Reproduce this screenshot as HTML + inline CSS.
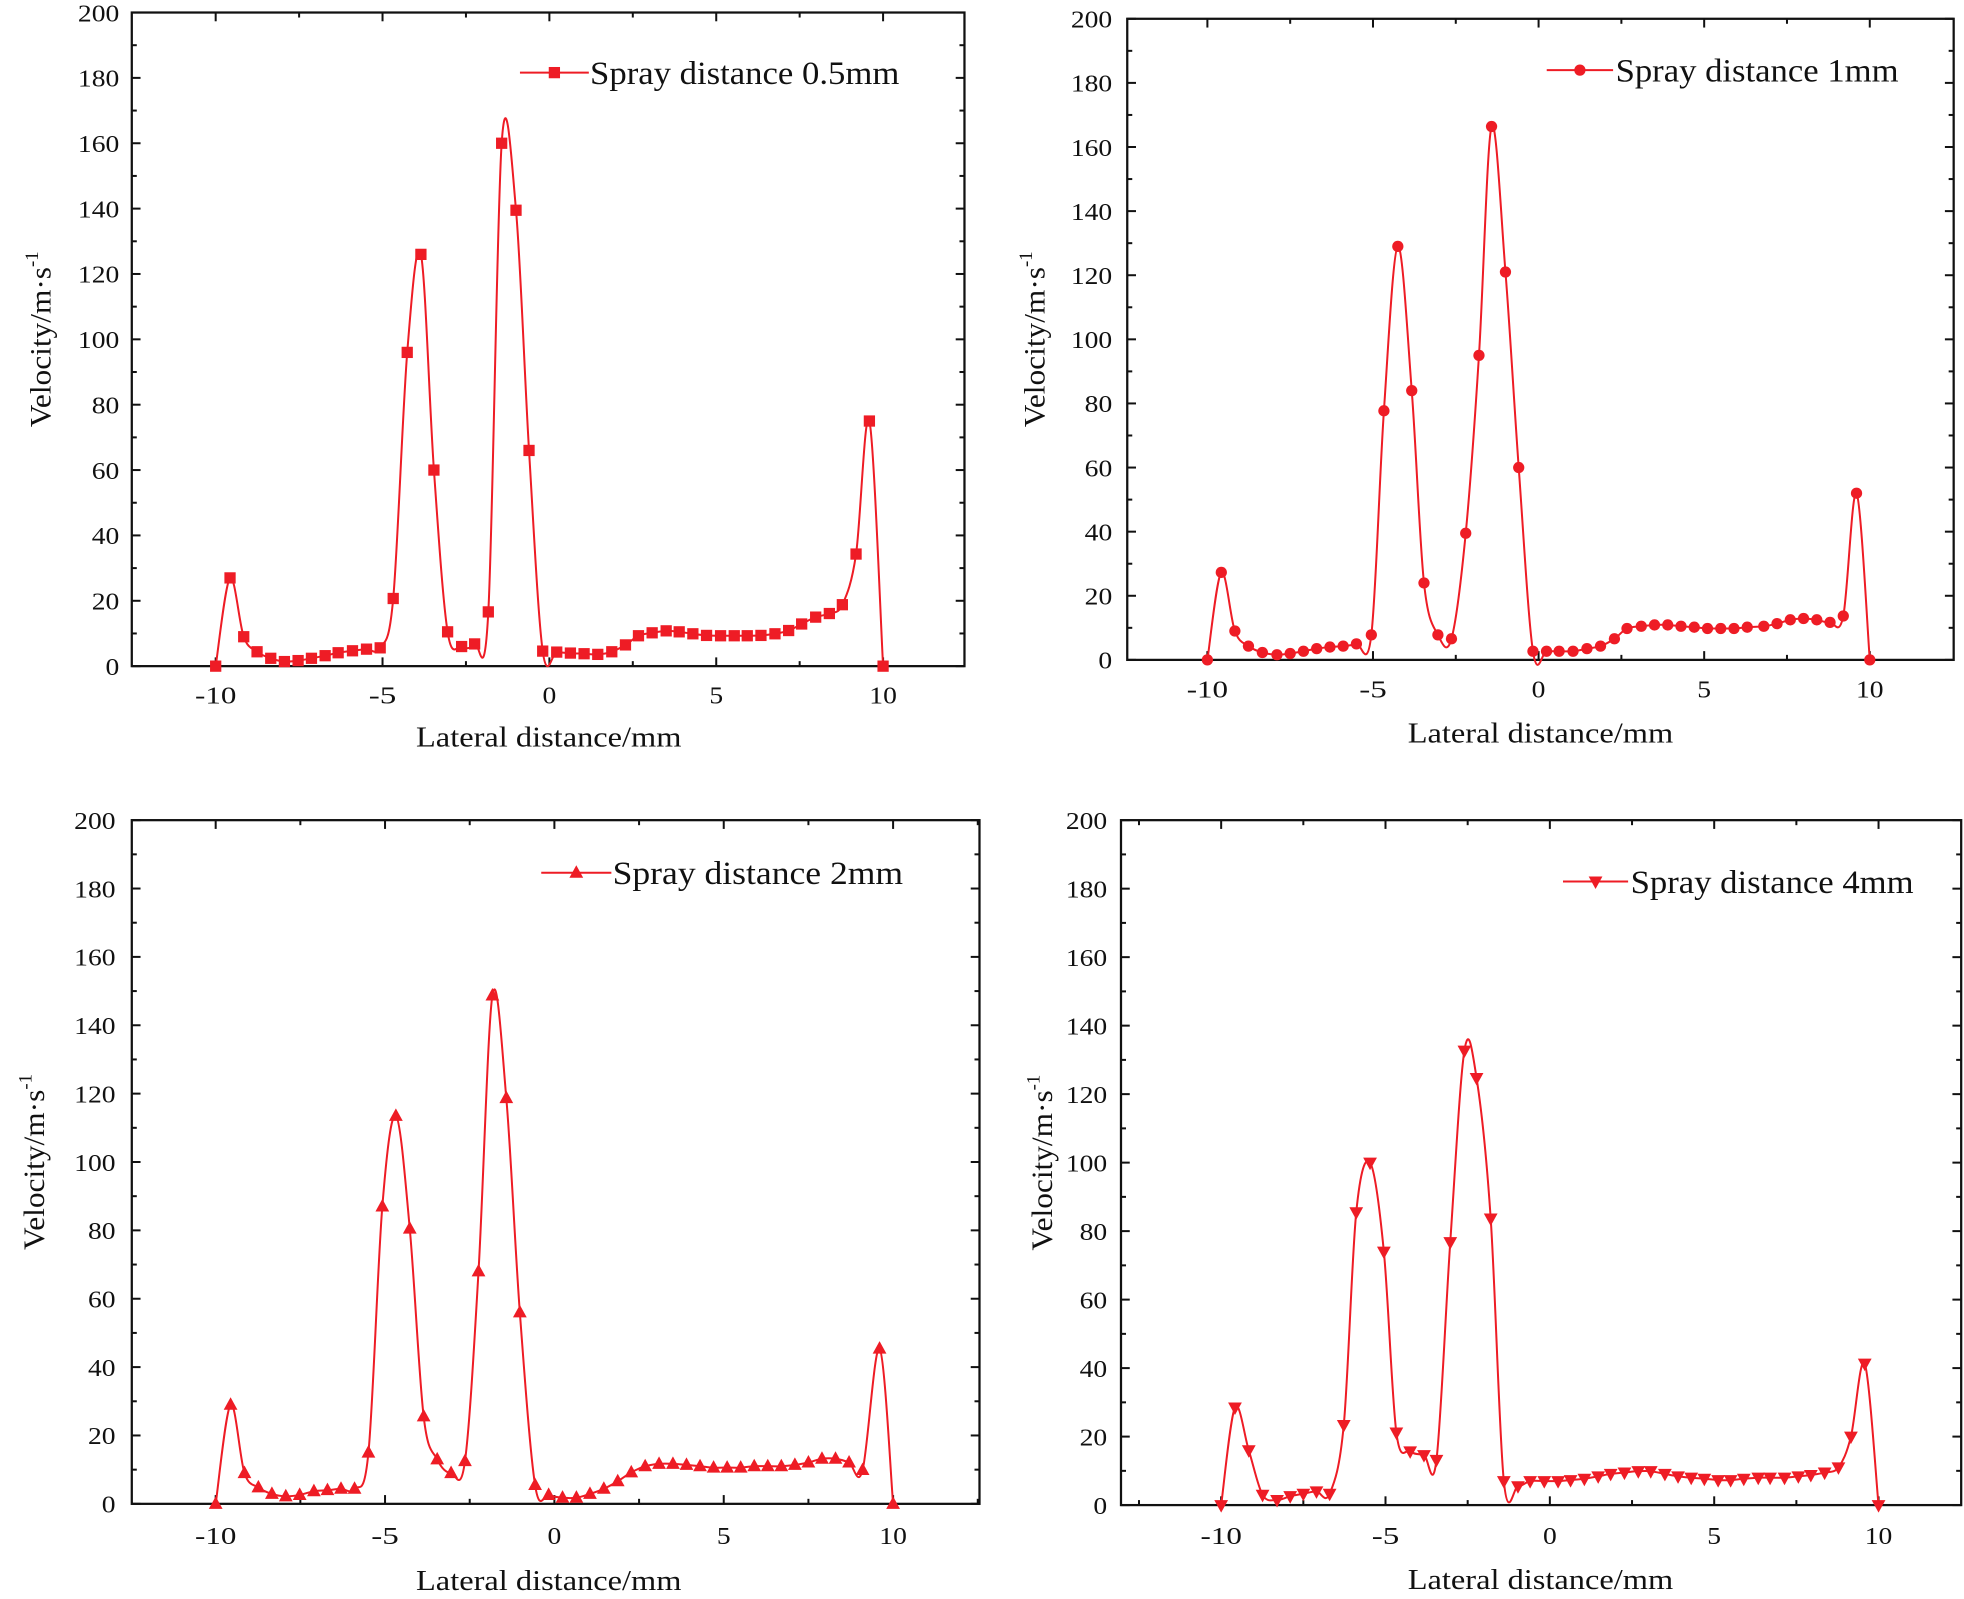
<!DOCTYPE html>
<html><head><meta charset="utf-8">
<style>
html,body{margin:0;padding:0;background:#fff;}
svg{display:block;}
text{font-family:"Liberation Serif",serif;fill:#111;}
</style></head>
<body>
<svg id="chart" width="1964" height="1599" viewBox="0 0 1568 1277" xmlns="http://www.w3.org/2000/svg">
</svg>
<script>
// ---- Data ----
const xTickLabels = ["-10","-5","0","5","10"];
const yTickLabels = ["0","20","40","60","80","100","120","140","160","180","200"];
const seriesNames = ["Spray distance 0.5mm","Spray distance 1mm","Spray distance 2mm","Spray distance 4mm"];

const xs1 = [-10,-9.57,-9.16,-8.76,-8.35,-7.94,-7.53,-7.13,-6.72,-6.33,-5.9,-5.48,-5.07,-4.68,-4.26,-3.85,-3.46,-3.05,-2.63,-2.24,-1.83,-1.43,-1.0,-0.61,-0.2,0.22,0.63,1.04,1.45,1.87,2.28,2.67,3.08,3.5,3.89,4.3,4.71,5.13,5.54,5.93,6.34,6.76,7.17,7.56,7.98,8.39,8.78,9.19,9.59,10];
const ys1 = [0,27,9,4.4,2.4,1.4,1.7,2.4,3.2,4.1,4.7,5.2,5.6,20.7,96,126,60,10.5,6,6.8,16.6,160,139.5,66,4.6,4.3,4,3.8,3.6,4.4,6.5,9.3,10.2,10.8,10.5,9.9,9.4,9.3,9.3,9.3,9.4,9.9,10.9,12.9,15,16.1,18.8,34.3,75,0];

const xs2 = [-10,-9.58,-9.17,-8.76,-8.34,-7.9,-7.5,-7.1,-6.7,-6.3,-5.9,-5.5,-5.05,-4.67,-4.25,-3.83,-3.46,-3.04,-2.63,-2.2,-1.8,-1.42,-1.0,-0.6,-0.17,0.24,0.62,1.04,1.46,1.87,2.29,2.67,3.1,3.5,3.9,4.3,4.7,5.1,5.5,5.9,6.3,6.8,7.2,7.6,8.0,8.4,8.8,9.2,9.6,10];
const ys2 = [0,27.3,9,4.3,2.3,1.6,2,2.7,3.5,4,4.3,5,7.8,77.7,129,84,24,7.8,6.6,39.5,95,166.4,121,60,2.7,2.7,2.7,2.7,3.5,4.3,6.6,9.8,10.5,10.9,10.9,10.5,10.2,9.8,9.8,9.8,10.2,10.5,11.3,12.5,12.9,12.5,11.7,13.7,52,0];

const xs3 = [-10,-9.56,-9.15,-8.74,-8.34,-7.93,-7.52,-7.1,-6.7,-6.3,-5.9,-5.49,-5.08,-4.68,-4.27,-3.86,-3.46,-3.05,-2.64,-2.24,-1.83,-1.42,-1.02,-0.57,-0.17,0.24,0.65,1.05,1.46,1.87,2.27,2.68,3.09,3.5,3.9,4.3,4.7,5.1,5.5,5.9,6.3,6.7,7.1,7.5,7.9,8.3,8.7,9.1,9.6,10];
const ys3 = [0,29,9,4.8,2.9,2.2,2.6,3.7,4,4.4,4.4,15,87,113.5,80.5,25.6,13,9,12.5,68,148.7,118.7,56,5.5,2.6,1.8,1.8,2.9,4.4,6.6,9.2,11,11.7,11.7,11.4,11,10.6,10.6,10.6,11,11,11,11.4,12.1,13.2,13.2,12.1,9.9,45.4,0];

const xs4 = [-10,-9.58,-9.16,-8.74,-8.3,-7.9,-7.5,-7.1,-6.7,-6.27,-5.89,-5.47,-5.05,-4.67,-4.25,-3.83,-3.45,-3.03,-2.6,-2.23,-1.8,-1.4,-0.97,-0.6,-0.17,0.25,0.63,1.05,1.47,1.85,2.27,2.69,3.07,3.5,3.9,4.3,4.7,5.12,5.5,5.9,6.34,6.7,7.14,7.56,7.94,8.36,8.78,9.16,9.58,10];
const ys4 = [0,28.5,16,3,1.5,2.6,3.3,4,3.3,23.4,85.5,100,74,21.2,15.7,14.6,13.2,76.8,132.7,124.7,83.7,7,5.5,7,7,7,7.3,7.7,8.4,9.1,9.5,9.9,9.9,9.1,8.4,8,7.7,7.3,7.3,7.7,8,8,8,8.4,8.8,9.5,11,20,41.3,0];

const seriesX = [xs1,xs2,xs3,xs4];
const seriesY = [ys1,ys2,ys3,ys4];

// ---- Layout (pixel geometry, not data) ----
const panels = [
 {L:105,R:770,T:10,B:532,x0:172,x1:705,ylx:95,xly:562,xtx:438,xty:596,ytx:32,leg:[415,470,58,471,67,247],mk:"square"},
 {L:900,R:1560,T:15,B:527,x0:964,x1:1493,ylx:888,xly:557,xtx:1230,xty:593,ytx:826,leg:[1235,1288,56,1290,65,226],mk:"circle"},
 {L:105,R:782,T:655,B:1201,x0:172,x1:713,ylx:92,xly:1233,xtx:438,xty:1270,ytx:27,leg:[432,488,697,489,706,232],mk:"up"},
 {L:895,R:1566,T:655,B:1202,x0:975,x1:1500,ylx:884,xly:1233,xtx:1230,xty:1269,ytx:832,leg:[1248,1300,704,1302,713,226],mk:"down"}
];
const RED="#ee1c25";
const NS="http://www.w3.org/2000/svg";
const svg=document.getElementById('chart');
function mk(tag,attrs,parent){const e=document.createElementNS(NS,tag);for(const k in attrs)e.setAttribute(k,attrs[k]);(parent||svg).appendChild(e);return e;}

function marker(g,type,cx,cy){
  let e;
  if(type==="square") e=mk('rect',{x:cx-4.5,y:cy-4.5,width:9,height:9,fill:RED},g);
  else if(type==="circle") e=mk('circle',{cx:cx,cy:cy,r:4.5,fill:RED},g);
  else if(type==="up") e=mk('polygon',{points:`${cx},${cy-6} ${cx-5.5},${cy+4} ${cx+5.5},${cy+4}`,fill:RED},g);
  else e=mk('polygon',{points:`${cx},${cy+6} ${cx-5.5},${cy-4} ${cx+5.5},${cy-4}`,fill:RED},g);
  return e;
}
function spline(pts){
  let d=`M${pts[0][0]},${pts[0][1]}`;
  for(let i=0;i<pts.length-1;i++){
    const p0=pts[Math.max(0,i-1)],p1=pts[i],p2=pts[i+1],p3=pts[Math.min(pts.length-1,i+2)];
    const c1x=p1[0]+(p2[0]-p0[0])/6,c1y=p1[1]+(p2[1]-p0[1])/6;
    const c2x=p2[0]-(p3[0]-p1[0])/6,c2y=p2[1]-(p3[1]-p1[1])/6;
    d+=` C${c1x},${c1y} ${c2x},${c2y} ${p2[0]},${p2[1]}`;
  }
  return d;
}

panels.forEach((p,pi)=>{
  const g=mk('g',{});
  
  
  const sx=v=>p.x0+(v+10)/20*(p.x1-p.x0);
  const sy=v=>p.B-v/200*(p.B-p.T);
  const tg=mk('g',{stroke:'#111','stroke-width':1.6},g);
  
  
  for(let v=-12.5;v<=12.5;v+=2.5){
    const x=sx(v); if(x<p.L+1||x>p.R-1) continue;
    const len=(v%5===0)?7:4;
    mk('line',{x1:x,y1:p.B,x2:x,y2:p.B-len},tg);
    mk('line',{x1:x,y1:p.T,x2:x,y2:p.T+len},tg);
  }
  for(let v=0;v<=200;v+=10){
    const y=sy(v); const len=(v%20===0)?7:4;
    mk('line',{x1:p.L,y1:y,x2:p.L+len,y2:y},tg);
    mk('line',{x1:p.R,y1:y,x2:p.R-len,y2:y},tg);
  }
  const frame=mk('rect',{x:p.L,y:p.T,width:p.R-p.L,height:p.B-p.T,fill:'none',stroke:'#111','stroke-width':1.8},g);
  
  
  xTickLabels.forEach(t=>{
    const e=mk('text',{x:sx(parseFloat(t)),y:p.xly,'text-anchor':'middle','font-size':19,textLength:t.length*11,lengthAdjust:'spacingAndGlyphs'},g);
    e.textContent=t;
    
    
  });
  yTickLabels.forEach(t=>{
    const e=mk('text',{x:p.ylx,y:sy(parseFloat(t))+7,'text-anchor':'end','font-size':19,textLength:t.length*11,lengthAdjust:'spacingAndGlyphs'},g);
    e.textContent=t;
    
    
  });
  const xt=mk('text',{x:p.xtx,y:p.xty,'text-anchor':'middle','font-size':23,textLength:212,lengthAdjust:'spacingAndGlyphs'},g);
  xt.textContent='Lateral distance/mm';
  
  
  const cy=(p.T+p.B)/2;
  const yt=mk('text',{x:p.ytx,y:cy,'text-anchor':'middle','font-size':24,transform:`rotate(-90 ${p.ytx} ${cy})`,dy:8},g);
  yt.innerHTML='<tspan textLength="128" lengthAdjust="spacingAndGlyphs">Velocity/m·s</tspan><tspan dy="-10" font-size="15">-1</tspan>';
  
  
  const xs=seriesX[pi], ys=seriesY[pi];
  const pts=xs.map((x,i)=>[sx(x),sy(ys[i])]);
  const line=mk('path',{d:spline(pts),fill:'none',stroke:RED,'stroke-width':1.6},g);
  
  
  const mg=mk('g',{},g);
  
  
  pts.forEach(q=>{
    const m=marker(mg,p.mk,q[0],q[1]);
    
    
  });
  const lg=mk('g',{},g);
  
  
  const [lx1,lx2,ly,tx,ty,tw]=p.leg;
  mk('line',{x1:lx1,y1:ly,x2:lx2,y2:ly,stroke:RED,'stroke-width':1.6},lg);
  marker(lg,p.mk,(lx1+lx2)/2,ly);
  const lt=mk('text',{x:tx,y:ty,'font-size':26,textLength:tw,lengthAdjust:'spacingAndGlyphs'},lg);
  lt.textContent=seriesNames[pi];
});
</script>
</body></html>
